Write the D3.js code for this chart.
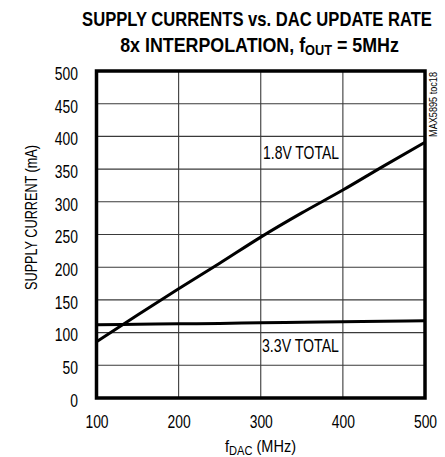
<!DOCTYPE html>
<html><head><meta charset="utf-8">
<script src="https://cdn.jsdelivr.net/npm/d3@7"></script>
<style>
body{margin:0;background:#fff;}
text{font-family:"Liberation Sans",Arial,sans-serif;fill:#000;}
</style></head><body>
<svg id="c" width="445" height="457"></svg>
<script>
const fdac = [100,150,200,250,300,350,400,450,500];
const total18 = [86,127,167,206,246,283,318,355,391];
const total33 = [112,112.8,113.4,114,115,115.8,116.5,117.2,118];
const xTicks = [100,200,300,400,500];
const yTicks = [0,50,100,150,200,250,300,350,400,450,500];
const seriesNames = ["1.8V TOTAL","3.3V TOTAL"];
const title1 = "SUPPLY CURRENTS vs. DAC UPDATE RATE";
const title2 = ["8x INTERPOLATION, f","OUT"," = 5MHz"];
const yTitle = "SUPPLY CURRENT (mA)";
const xTitle = ["f","DAC"," (MHz)"];
const note = "MAX5895 toc18";

const svg = d3.select("#c");
const L=96.5,R=425,T=71,B=398;
const x = d3.scaleLinear().domain([100,500]).range([L,R]);
const y = d3.scaleLinear().domain([0,500]).range([B,T]);

function ctext(px,py,sx,opts={}){
  const g = svg.append("g").attr("transform",`translate(${px},${py})${opts.rot?` rotate(${opts.rot})`:""} scale(${sx},1)`);
  return g.append("text").attr("text-anchor",opts.anchor||"start")
    .style("font-size",(opts.size||18)+"px").style("font-weight",opts.weight||"normal");
}
function fitWidth(t,w){
  const len = t.node().getComputedTextLength();
  const g = d3.select(t.node().parentNode);
  g.attr("transform", g.attr("transform").replace(/scale\([^)]*\)/, `scale(${w/len},1)`));
}

// title
const t1 = ctext(257,26,1,{anchor:"middle",size:21,weight:"bold"}).text(title1);
fitWidth(t1,350);
const t2 = ctext(259.5,52,1,{anchor:"middle",size:21,weight:"bold"});
t2.append("tspan").text(title2[0]);
t2.append("tspan").attr("dy",3).style("font-size","15px").text(title2[1]);
t2.append("tspan").attr("dy",-3).text(title2[2]);
fitWidth(t2,279);

// grid
svg.append("g").selectAll("line").data(xTicks.slice(1,-1)).join("line")
  .attr("x1",d=>x(d)).attr("x2",d=>x(d)).attr("y1",T).attr("y2",B)
  .attr("stroke","#3a3a3a").attr("stroke-width",1.1);
svg.append("g").selectAll("line").data(yTicks.slice(1,-1)).join("line")
  .attr("y1",d=>y(d)).attr("y2",d=>y(d)).attr("x1",L).attr("x2",R)
  .attr("stroke","#3a3a3a").attr("stroke-width",1.1);

// axes tick labels
const sxT = 0.75;
const ax = svg.append("g").attr("transform",`translate(0,${B})`)
  .call(d3.axisBottom(x).tickValues(xTicks).tickSize(0).tickPadding(17));
const ay = svg.append("g").attr("transform",`translate(${L},0)`)
  .call(d3.axisLeft(y).tickValues(yTicks).tickSize(0));
[ax,ay].forEach(a=>{a.select(".domain").remove();
  a.selectAll("text").style("font-size","18.5px").style("font-family",'"Liberation Sans",Arial,sans-serif')
   .attr("fill","#000").attr("transform",`scale(${sxT},1)`);});
ay.selectAll("text").attr("x",-18.5/sxT).attr("dy","0.45em");

// lines
const line = d3.line().x((d,i)=>x(fdac[i])).y(d=>y(d)).curve(d3.curveMonotoneX);
svg.append("path").attr("d",line(total18)).attr("fill","none").attr("stroke","#000").attr("stroke-width",3);
svg.append("path").attr("d",line(total33)).attr("fill","none").attr("stroke","#000").attr("stroke-width",3);

// border
svg.append("rect").attr("x",L).attr("y",T).attr("width",R-L).attr("height",B-T)
  .attr("fill","none").attr("stroke","#000").attr("stroke-width",3.5);

// series labels
const s1 = ctext(263,159,1,{size:19}).text(seriesNames[0]); fitWidth(s1,76);
const s2 = ctext(262,352,1,{size:19}).text(seriesNames[1]); fitWidth(s2,77);

// axis titles
const yt = ctext(37,217.5,1,{anchor:"middle",size:17,rot:-90}).text(yTitle); fitWidth(yt,145);
const xt = ctext(225,452,1,{size:17});
xt.append("tspan").text(xTitle[0]);
xt.append("tspan").attr("dy",3).style("font-size","13px").text(xTitle[1]);
xt.append("tspan").attr("dy",-3).text(xTitle[2]);
fitWidth(xt,71);

// side note
const nt = ctext(437,104.5,1,{anchor:"middle",size:10,rot:-90}).text(note); fitWidth(nt,65);
</script></body></html>
